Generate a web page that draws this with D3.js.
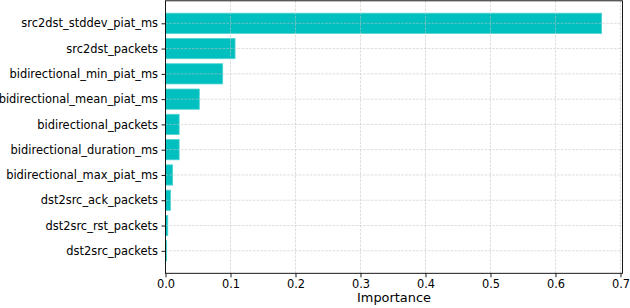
<!DOCTYPE html>
<html>
<head>
<meta charset="utf-8">
<script src="https://cdn.jsdelivr.net/npm/d3@7"></script>
<style>
  html, body { margin: 0; padding: 0; background: #fff; }
  svg { display: block; }
  text { font-family: "DejaVu Sans", sans-serif; fill: #000; }
</style>
</head>
<body>
<svg id="chart" width="630" height="308"></svg>
<script>
const features = [
  "src2dst_stddev_piat_ms",
  "src2dst_packets",
  "bidirectional_min_piat_ms",
  "bidirectional_mean_piat_ms",
  "bidirectional_packets",
  "bidirectional_duration_ms",
  "bidirectional_max_piat_ms",
  "dst2src_ack_packets",
  "dst2src_rst_packets",
  "dst2src_packets"
];
const importance = [0.671, 0.107, 0.088, 0.052, 0.021, 0.021, 0.011, 0.0077, 0.0035, 0.0018];
const xTicks = [0.0, 0.1, 0.2, 0.3, 0.4, 0.5, 0.6, 0.7];
const xLabel = "Importance";

const svg = d3.select("#chart");
const mLeft = 165.5, mRight = 622.5, mTop = 0.8, mBottom = 273.3;

const x = d3.scaleLinear().domain([0, 0.7031]).range([mLeft, mRight]);
const y = d3.scaleLinear().domain([-0.89, features.length - 1 + 0.89]).range([mTop, mBottom]);
const barH = y(0.4) - y(-0.4);

// bars
svg.append("g").selectAll("rect")
  .data(features)
  .join("rect")
  .attr("x", x(0))
  .attr("y", (d, i) => y(i) - barH / 2)
  .attr("width", (d, i) => x(importance[i]) - x(0))
  .attr("height", barH)
  .attr("fill", "#00bfbf")
  .attr("stroke", "#4fd3d3")
  .attr("stroke-width", 0.8);

// grid
const grid = svg.append("g")
  .attr("stroke", "#c4c4c4")
  .attr("stroke-opacity", 0.7)
  .attr("stroke-width", 0.8)
  .attr("stroke-dasharray", "2.6,1.2");
grid.selectAll("line.gx")
  .data(xTicks)
  .join("line")
  .attr("class", "gx")
  .attr("x1", d => x(d)).attr("x2", d => x(d))
  .attr("y1", mTop).attr("y2", mBottom);
grid.selectAll("line.gy")
  .data(features)
  .join("line")
  .attr("class", "gy")
  .attr("x1", mLeft).attr("x2", mRight)
  .attr("y1", (d, i) => y(i)).attr("y2", (d, i) => y(i));

// axes
const xAxis = d3.axisBottom(x)
  .tickValues(xTicks)
  .tickFormat(d3.format(".1f"))
  .tickSize(4)
  .tickPadding(3);
const gx = svg.append("g")
  .attr("transform", `translate(0,${mBottom})`)
  .call(xAxis);
gx.select(".domain").remove();
gx.selectAll("line").attr("stroke", "#000").attr("stroke-width", 0.9);
gx.selectAll("text").attr("font-size", "11.4px").attr("font-family", "DejaVu Sans").attr("fill", "#000");

const yAxis = d3.axisLeft(y)
  .tickValues(d3.range(features.length))
  .tickFormat(i => features[i])
  .tickSize(4)
  .tickPadding(3.5);
const gy = svg.append("g")
  .attr("transform", `translate(${mLeft},0)`)
  .call(yAxis);
gy.select(".domain").remove();
gy.selectAll("line").attr("stroke", "#000").attr("stroke-width", 0.9);
gy.selectAll("text").attr("font-size", "11.45px").attr("font-family", "DejaVu Sans").attr("fill", "#000");

// spines
svg.append("rect")
  .attr("x", mLeft).attr("y", mTop)
  .attr("width", mRight - mLeft).attr("height", mBottom - mTop)
  .attr("fill", "none")
  .attr("stroke", "#000")
  .attr("stroke-width", 0.9);

// x label
svg.append("text")
  .attr("x", (mLeft + mRight) / 2)
  .attr("y", 302)
  .attr("text-anchor", "middle")
  .attr("font-size", "12.9px")
  .text(xLabel);
</script>
</body>
</html>
